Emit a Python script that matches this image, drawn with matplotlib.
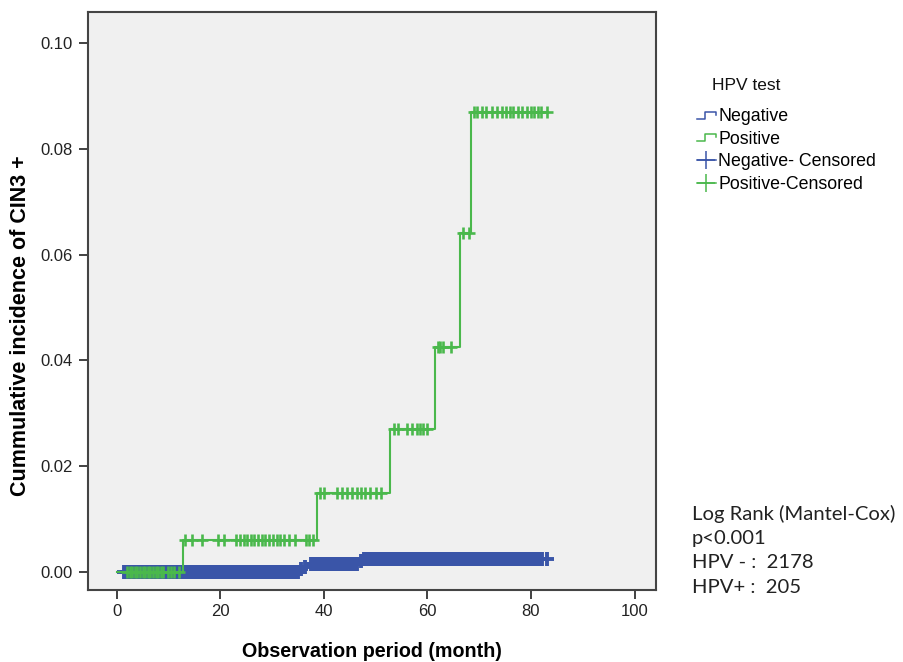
import numpy as np
import matplotlib
matplotlib.use("Agg")
import matplotlib.pyplot as plt
from matplotlib.lines import Line2D
from matplotlib.legend_handler import HandlerBase

plt.rcParams['font.family'] = ['Liberation Sans', 'DejaVu Sans']

# step functions: time (month) of each event and cumulative incidence after it
neg_times = [0, 35.2, 36.0, 37.0, 46.8, 47.4, 83]
neg_cuminc = [0, 0.0005, 0.0009, 0.0014, 0.0020, 0.0025, 0.0025]
pos_times = [0, 12.8, 38.6, 52.8, 61.4, 66.2, 68.5, 83]
pos_cuminc = [0, 0.006, 0.015, 0.027, 0.0425, 0.064, 0.087, 0.087]

# censored observations (month)
pos_censored = [2, 2.5, 3, 3.5, 4, 4.5, 5, 5.5, 6, 6.5, 7, 7.5, 8, 8.5, 9, 10, 10.5, 11, 12,
                13.2, 14.6, 16.5, 19.5, 20.8, 23, 23.8, 24.5, 25.2, 26, 26.6, 27.3, 28, 28.7,
                29.4, 30.2, 31, 31.6, 32.3, 33.2, 34.5, 36.5, 37.2, 38,
                39.3, 40, 42.5, 43.5, 44.5, 45.5, 46.5, 47.2, 48, 49, 50, 51,
                53.5, 54.3, 56, 57, 58, 58.6, 59.2, 60,
                62, 62.5, 63, 64.6,
                66.8, 68,
                69, 69.6, 70.5, 71.3, 72.5, 73.5, 74.5, 75.2, 76, 76.6, 77.5, 78.3, 79.2, 80,
                80.6, 81.3, 82, 83]
neg_censored = [1.5, 2, 2.5, 3, 3.5, 4, 4.5, 5, 5.5, 6, 6.5, 7, 7.5, 8, 8.5, 9, 9.5, 10,
                10.5, 11, 11.5, 12, 12.5, 13, 13.5, 14, 14.5, 15, 15.5, 16, 16.5, 17, 17.5,
                18, 18.5, 19, 19.5, 20, 20.5, 21, 21.5, 22, 22.5, 23, 23.5, 24, 24.5, 25,
                25.5, 26, 26.5, 27, 27.5, 28, 28.5, 29, 29.5, 30, 30.5, 31, 31.5, 32, 32.5,
                33, 33.5, 34, 34.5, 35, 35.6, 36.4, 37.5, 38, 38.5, 39, 39.5, 40, 40.5, 41,
                41.5, 42, 42.5, 43, 43.5, 44, 44.5, 45, 45.5, 46, 46.5, 47.2, 47.8, 48.3,
                48.8, 49.3, 49.8, 50.3, 50.8, 51.3, 51.8, 52.3, 52.8, 53.3, 53.8, 54.3,
                54.8, 55.3, 55.8, 56.3, 56.8, 57.3, 57.8, 58.3, 58.8, 59.3, 59.8, 60.3,
                60.8, 61.3, 61.8, 62.3, 62.8, 63.3, 63.8, 64.3, 64.8, 65.3, 65.8, 66.3,
                66.8, 67.3, 67.8, 68.3, 68.8, 69.3, 69.8, 70.3, 70.8, 71.3, 71.8, 72.3,
                72.8, 73.3, 73.8, 74.3, 74.8, 75.3, 75.8, 76.3, 76.8, 77.3, 77.8, 78.4,
                78.9, 79.4, 79.9, 80.4, 81, 81.6, 82.2, 83]

xticks = [0, 20, 40, 60, 80, 100]
yticks = [0.00, 0.02, 0.04, 0.06, 0.08, 0.10]
stats_lines = ["Log Rank (Mantel-Cox)", "p<0.001", "HPV - :  2178", "HPV+ :  205"]

blue = '#3a55a8'
green = '#4ab84c'


def level_at(times, vals, t):
    idx = np.searchsorted(times, t, side='right') - 1
    return np.asarray(vals)[idx]


class StepHandler(HandlerBase):
    def create_artists(self, legend, orig, xdescent, ydescent, width, height, fontsize, trans):
        w, h = width, height
        xs = np.array([0, 0.45, 0.45, 1.0, 1.0]) * w - xdescent
        ys = np.array([0.2, 0.2, 0.75, 0.75, 0.5]) * h - ydescent
        ln = Line2D(xs, ys, color=orig.get_color(), lw=1.1, transform=trans)
        return [ln]


fig = plt.figure(figsize=(9.04, 6.62), dpi=100)
ax = fig.add_axes([0.097, 0.109, 0.629, 0.873])
ax.set_facecolor('#f0f0f0')

# blue drawn first, green sits on top of it
ax.step(neg_times, neg_cuminc, where='post', color=blue, lw=1.4)
ax.plot(neg_censored, level_at(neg_times, neg_cuminc, neg_censored), ls='none',
        marker='+', ms=10, mew=2.8, color=blue)
ax.step(pos_times, pos_cuminc, where='post', color=green, lw=1.5)
ax.plot(pos_censored, level_at(pos_times, pos_cuminc, pos_censored), ls='none',
        marker='+', ms=9, mew=1.9, color=green)

ax.set_xlim(-5.6, 104.2)
ax.set_ylim(-0.0034, 0.1059)
ax.set_xticks(xticks)
ax.set_yticks(yticks)
ax.set_yticklabels([f"{v:.2f}" for v in yticks])
ax.tick_params(direction='out', length=6.5, width=1.3, color='#333333', pad=4,
               labelsize=12, labelcolor='#222222')
for s in ax.spines.values():
    s.set_color('#444444')
    s.set_linewidth(1.5)

ax.set_xlabel("Observation period (month)", fontsize=14.2, fontweight='bold', labelpad=16)
ax.set_ylabel("Cummulative incidence of CIN3 +", fontsize=15.5, fontweight='bold')
ax.yaxis.set_label_coords(-0.1, 0.457)

handles = [Line2D([], [], color=blue), Line2D([], [], color=green),
           Line2D([], [], color=blue, marker='+', ms=13, mew=1.1, lw=1.1),
           Line2D([], [], color=green, marker='+', ms=13, mew=1.1, lw=1.1)]
labels = ["Negative", "Positive", "Negative- Censored", "Positive-Censored"]
fig.text(746 / 904, 1 - 85 / 662, "HPV test", fontsize=12.5, ha='center', va='center',
         color='#111111')
leg = fig.legend(handles, labels, loc='upper left',
                 bbox_to_anchor=(697 / 904, 1 - 108 / 662), frameon=False, fontsize=12.8,
                 handlelength=1.05, handletextpad=0.15, labelspacing=0.32,
                 borderaxespad=0, borderpad=0,
                 handler_map={handles[0]: StepHandler(), handles[1]: StepHandler()})

for i, s in enumerate(stats_lines):
    fig.text(692 / 904, 1 - (514 + i * 24.5) / 662, s, fontsize=14.6, family='Lato',
             va='center', ha='left', color='#222222')

fig.savefig("out.png", dpi=100)
